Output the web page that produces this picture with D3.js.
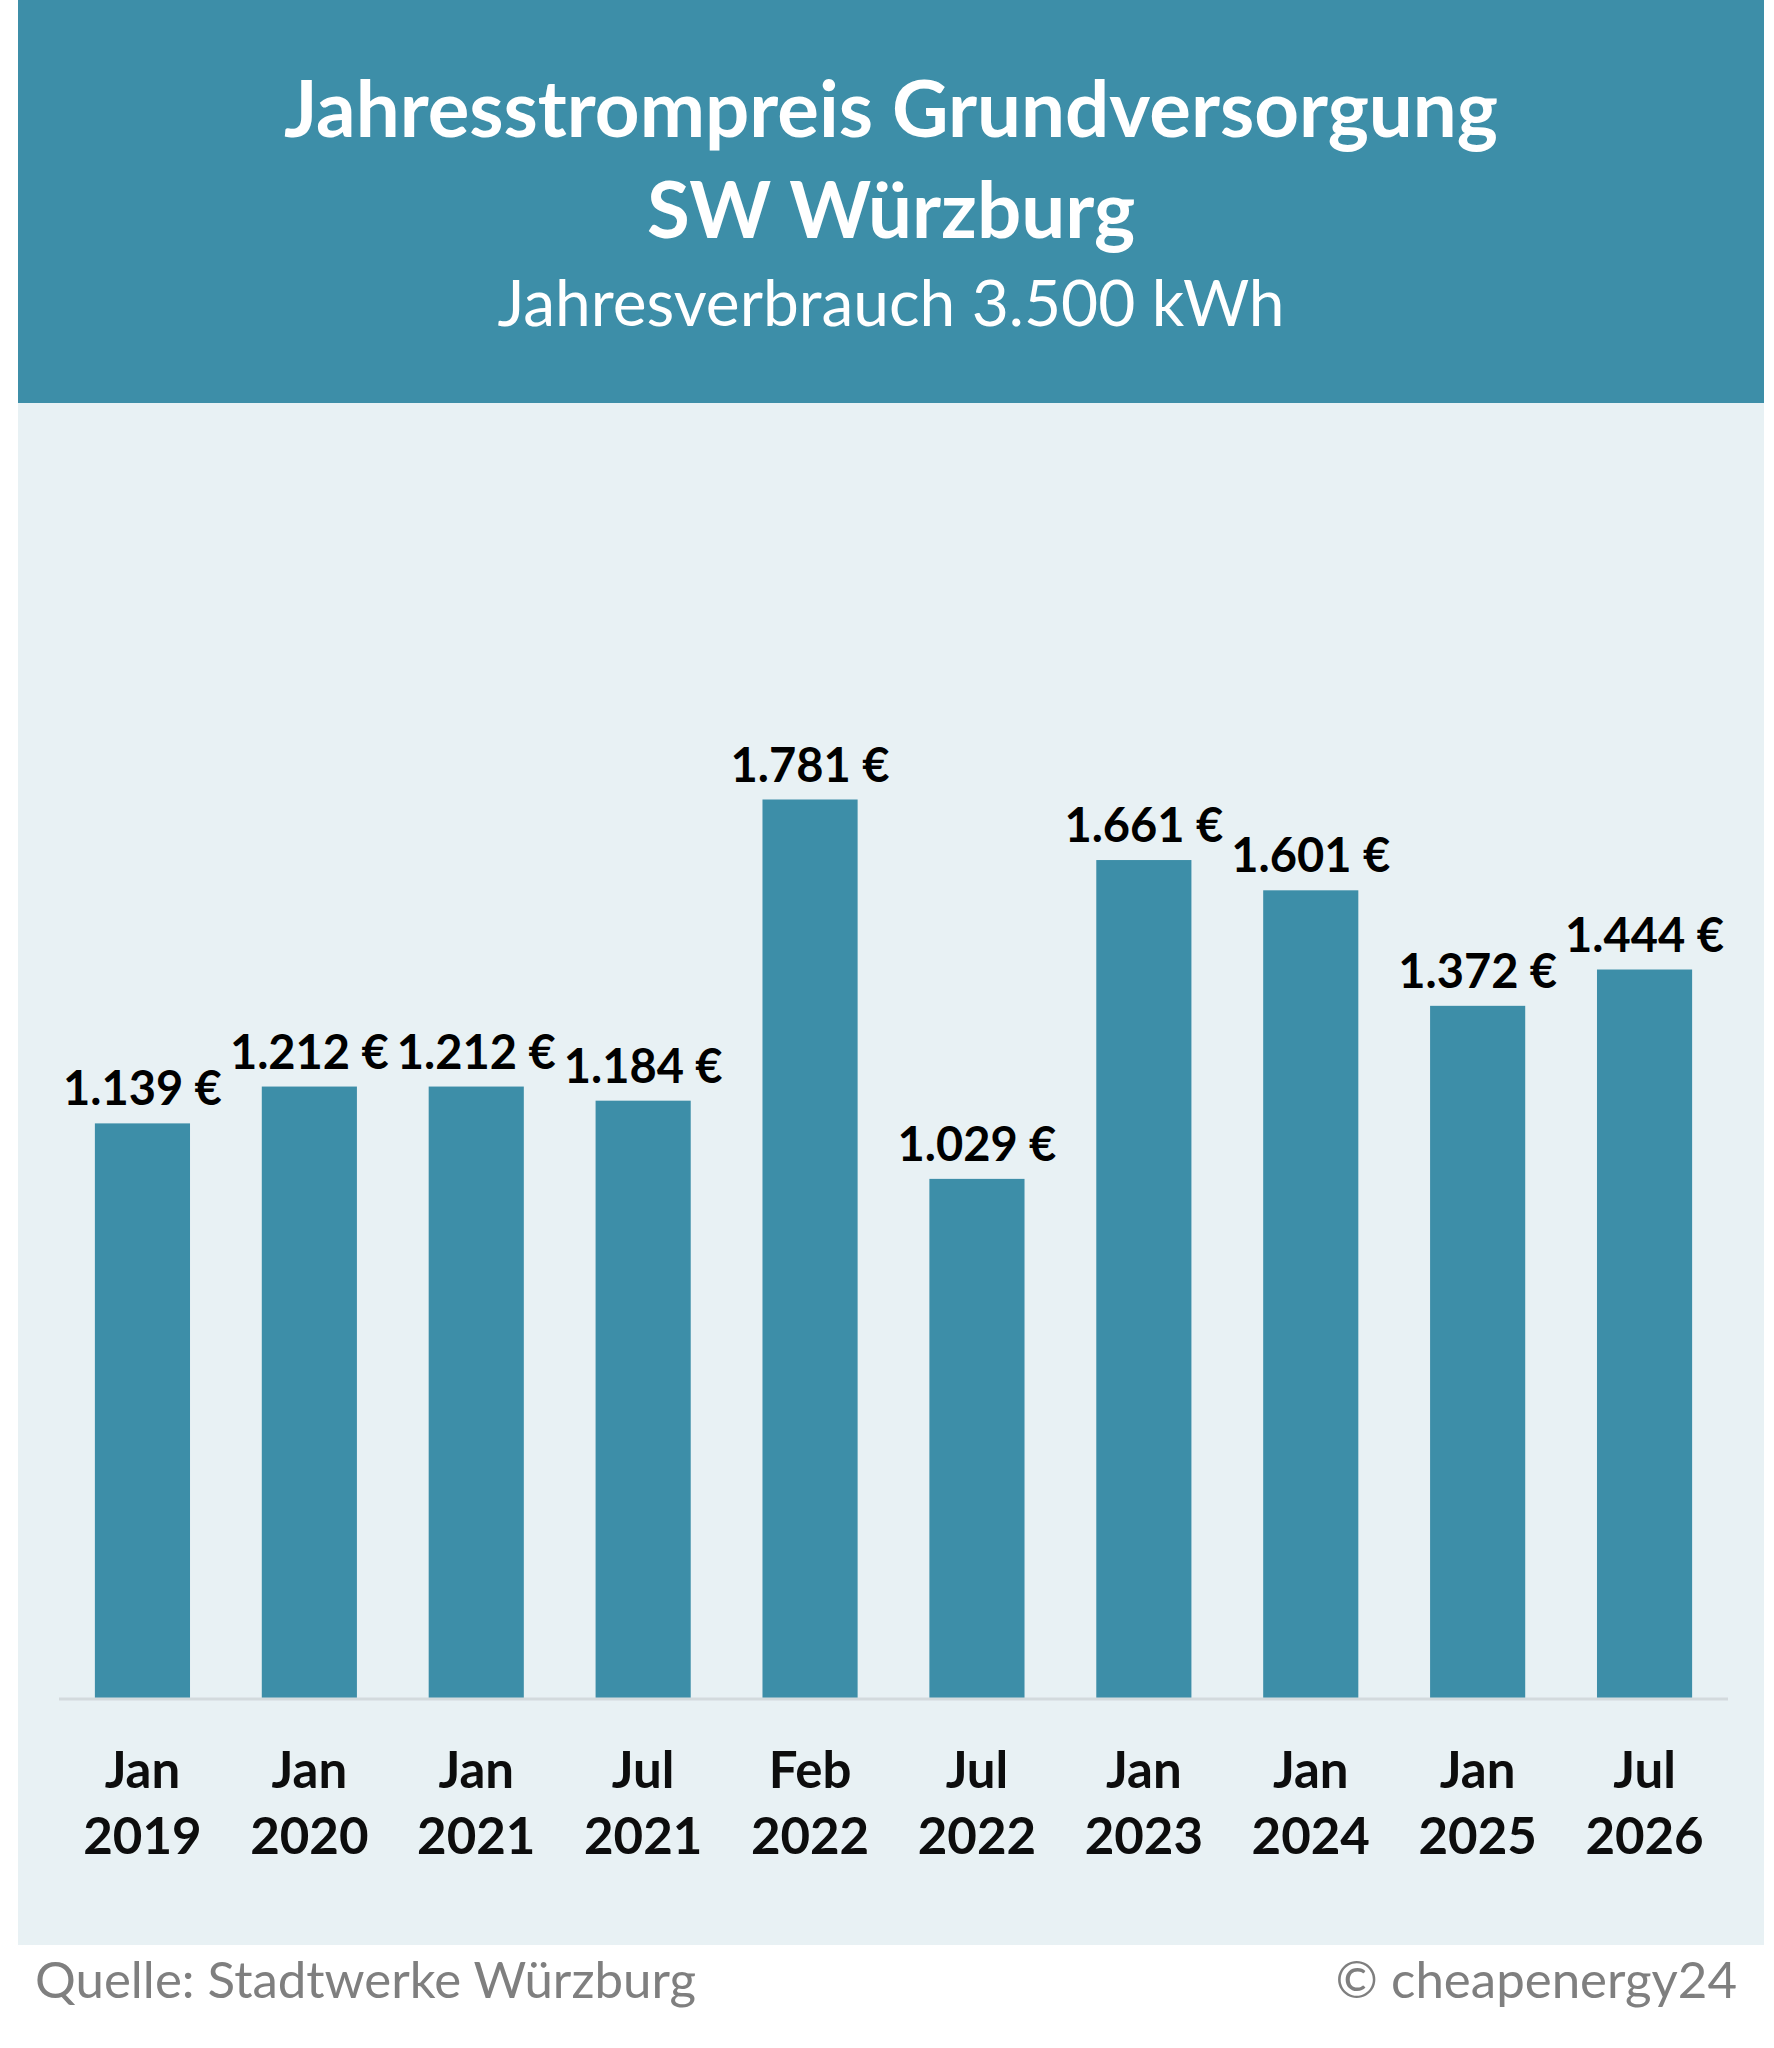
<!DOCTYPE html>
<html>
<head>
<meta charset="utf-8">
<script src="https://cdn.jsdelivr.net/npm/d3@7"></script>
<style>
  body { margin: 0; background: #ffffff; }
  svg text { font-family: Lato, "Open Sans", sans-serif; }
</style>
</head>
<body>
<div id="chart"></div>
<script>
// data
const months = ["Jan", "Jan", "Jan", "Jul", "Feb", "Jul", "Jan", "Jan", "Jan", "Jul"]
const years = ["2019", "2020", "2021", "2021", "2022", "2022", "2023", "2024", "2025", "2026"]
const prices = [1139, 1212, 1212, 1184, 1781, 1029, 1661, 1601, 1372, 1444]

const titleLines = ["Jahresstrompreis Grundversorgung", "SW Würzburg"]
const subtitle = "Jahresverbrauch 3.500 kWh"
const source = "Quelle: Stadtwerke Würzburg"
const credit = "© cheapenergy24"

var W = 1774, H = 2048
var teal = "#3d8ea8"

var svg = d3.select("#chart")
    .append("svg")
    .attr("width", W)
    .attr("height", H)

// header band + light panel
svg.append("rect")
    .attr("x", 18).attr("y", 0)
    .attr("width", 1746).attr("height", 403)
    .style("fill", teal)
svg.append("rect")
    .attr("x", 18).attr("y", 403)
    .attr("width", 1746).attr("height", 1542)
    .style("fill", "#e8f1f4")

// titles
svg.selectAll(".title")
    .data(titleLines)
    .enter()
    .append("text")
    .attr("class", "title")
    .attr("x", 891)
    .attr("y", function (d, i) { return 137 + i * 101 })
    .attr("text-anchor", "middle")
    .style("font-size", "78px")
    .style("font-weight", "bold")
    .style("fill", "#ffffff")
    .text(function (d) { return d })

svg.append("text")
    .attr("x", 891)
    .attr("y", 326)
    .attr("text-anchor", "middle")
    .style("font-size", "64px")
    .style("fill", "#ffffff")
    .text(subtitle)

// scales
var x = d3.scaleBand()
    .domain(d3.range(prices.length))
    .range([59, 1728])
    .paddingInner(0.43)
    .paddingOuter(0.215)

var y = d3.scaleLinear()
    .domain([0, 1781])
    .range([1698, 799.5])

// bars
svg.append("g")
    .selectAll("rect")
    .data(prices)
    .enter()
    .append("rect")
    .attr("x", function (d, i) { return x(i) })
    .attr("y", function (d) { return y(d) })
    .attr("width", x.bandwidth())
    .attr("height", function (d) { return y(0) - y(d) })
    .style("fill", teal)

// baseline
svg.append("line")
    .attr("x1", 59).attr("x2", 1728)
    .attr("y1", y(0) + 1).attr("y2", y(0) + 1)
    .style("stroke", "#d3dadd")
    .style("stroke-width", 3)

// value labels
var fmt = function (v) { return d3.format(",")(v).replace(",", ".") + " €" }
svg.append("g")
    .selectAll("text")
    .data(prices)
    .enter()
    .append("text")
    .attr("x", function (d, i) { return x(i) + x.bandwidth() / 2 })
    .attr("y", function (d) { return y(d) - 18 })
    .attr("text-anchor", "middle")
    .style("font-size", "47px")
    .style("font-weight", "bold")
    .style("fill", "#000000")
    .text(fmt)

// x axis labels (two lines)
var xl = svg.append("g")
    .selectAll("text")
    .data(prices)
    .enter()
    .append("text")
    .attr("text-anchor", "middle")
    .style("font-size", "51px")
    .style("font-weight", "bold")
    .style("fill", "#0d0d0d")
xl.append("tspan")
    .attr("x", function (d, i) { return x(i) + x.bandwidth() / 2 })
    .attr("y", 1788)
    .text(function (d, i) { return months[i] })
xl.append("tspan")
    .attr("x", function (d, i) { return x(i) + x.bandwidth() / 2 })
    .attr("y", 1854)
    .text(function (d, i) { return years[i] })

// footer
svg.append("text")
    .attr("x", 35)
    .attr("y", 1998)
    .style("font-size", "51px")
    .style("fill", "#7f7f7f")
    .text(source)
svg.append("text")
    .attr("x", 1737)
    .attr("y", 1998)
    .attr("text-anchor", "end")
    .style("font-size", "51px")
    .style("fill", "#7f7f7f")
    .text(credit)
</script>
</body>
</html>
